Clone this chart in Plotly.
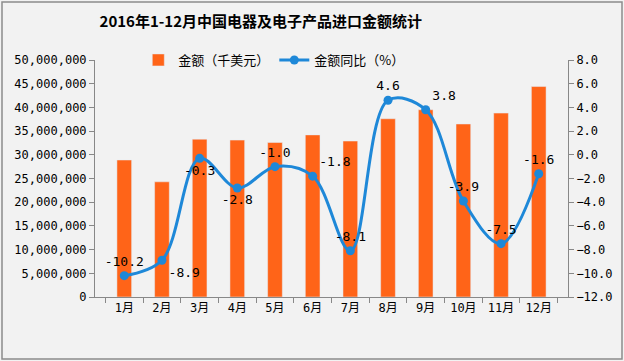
import plotly.graph_objects as go

months = ["1月", "2月", "3月", "4月", "5月", "6月", "7月", "8月", "9月", "10月", "11月", "12月"]
amount = [28900000, 24300000, 33300000, 33100000, 32600000, 34200000,
          32900000, 37600000, 39500000, 36500000, 38800000, 44400000]
yoy = [-10.2, -8.9, -0.3, -2.8, -1.0, -1.8, -8.1, 4.6, 3.8, -3.9, -7.5, -1.6]
label_pos = ["top center", "bottom right", "bottom center", "bottom center", "top center", "top right",
             "top center", "top center", "top right", "top center", "top center", "top center"]

mono = "DejaVu Sans Mono, Noto Sans CJK SC"

fig = go.Figure()
fig.add_trace(go.Bar(
    x=months, y=amount, name="金额（千美元）",
    marker=dict(color="#FF6418"), width=0.39, yaxis="y",
))
fig.add_trace(go.Scatter(
    x=months, y=yoy, name="金额同比（%）", yaxis="y2",
    mode="lines+markers+text",
    line=dict(color="#1E88D8", width=3, shape="spline", smoothing=1.0),
    marker=dict(color="#1E88D8", size=9),
    text=[f"{v:.1f}" for v in yoy], textposition=label_pos,
    textfont=dict(family=mono, size=13, color="#000000"),
    cliponaxis=False,
))

fig.update_layout(
    width=624, height=361,
    margin=dict(l=95, r=56, t=60, b=64),
    paper_bgcolor="#F2F2F2", plot_bgcolor="#F2F2F2",
    font=dict(family=mono, size=12, color="#000000"),
    title=dict(text="<b>2016年1-12月中国电器及电子产品进口金额统计</b>",
               x=0.418, xanchor="center", y=0.94, yanchor="middle",
               font=dict(family="Noto Sans CJK SC", size=15, color="#000000")),
    legend=dict(orientation="h", x=0.378, xanchor="center", y=1.0, yanchor="middle",
                bgcolor="rgba(0,0,0,0)", font=dict(family="Noto Sans CJK SC", size=13)),
    bargap=0.6,
    xaxis=dict(showline=True, linecolor="#888888", linewidth=1,
               ticks="outside", tickson="boundaries", tickcolor="#888888", ticklen=5,
               showgrid=False, tickfont=dict(family=mono, size=12)),
    yaxis=dict(range=[0, 50000000], dtick=5000000, tickformat=",d",
               showline=True, linecolor="#888888", ticks="outside", tickcolor="#888888",
               ticklen=5, showgrid=False, zeroline=False, tickfont=dict(family=mono, size=12)),
    yaxis2=dict(range=[-12, 8], dtick=2, tickformat=".1f", overlaying="y", side="right",
                showline=True, linecolor="#888888", ticks="outside", tickcolor="#888888",
                ticklen=5, showgrid=False, zeroline=False, tickfont=dict(family=mono, size=12)),
    shapes=[dict(type="rect", xref="paper", yref="paper", x0=-93/473, x1=(622-95)/473,
                 y0=-62/237, y1=1 + 58/237, line=dict(color="#8C8C8C", width=1.5),
                 fillcolor="rgba(0,0,0,0)", layer="below")],
)

fig.write_html("out.html", config={"displayModeBar": False},
               post_script="document.body.style.margin='0';document.body.style.background='#F2F2F2';")
